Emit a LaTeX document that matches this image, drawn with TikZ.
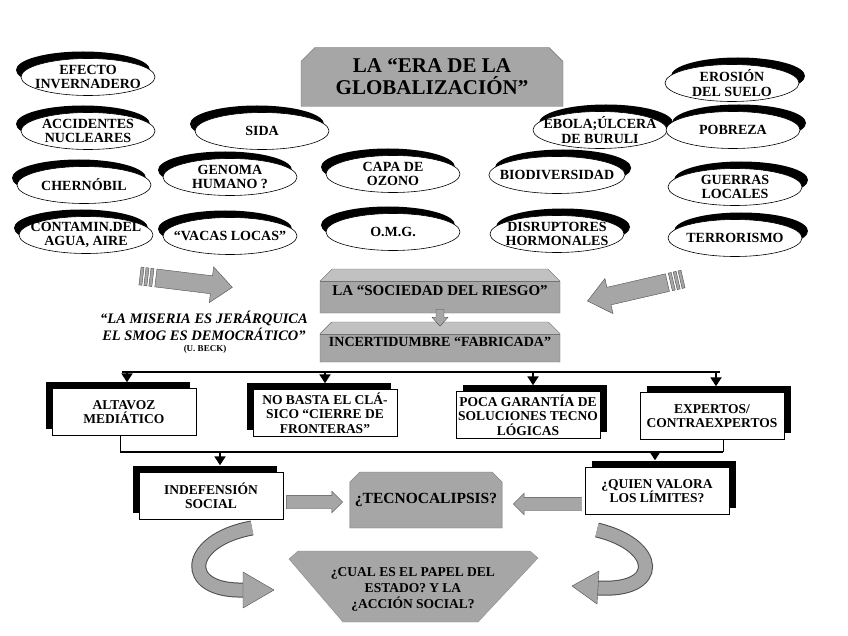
\documentclass[tikz,border=0pt]{standalone}
\usepackage{fontspec}
\setmainfont{Liberation Serif}
\usetikzlibrary{positioning,calc,shadows,shapes.geometric,shapes.misc,shapes.arrows,arrows.meta}
\definecolor{halftone}{gray}{0.65}

\begin{document}
\begin{tikzpicture}[x=1pt,y=-1pt]
	\tikzstyle{every node}=[font=\bfseries, align=center]
	\tikzstyle{bub}=[ellipse, draw, semithick, fill=white, minimum width=134pt, minimum height=37pt, inner xsep=-9pt, inner ysep=-3pt, font=\bfseries\fontsize{14}{14.5}\selectfont]
	\tikzstyle{bubL}=[bub, drop shadow={shadow xshift=-5pt, shadow yshift=7pt, fill=black, opacity=1}]
	\tikzstyle{bubR}=[bub, drop shadow={shadow xshift=6pt, shadow yshift=7pt, fill=black, opacity=1}]
	\tikzstyle{card}=[rectangle, draw, fill=white, minimum width=144pt, minimum height=47pt, inner sep=1pt, font=\bfseries\fontsize{13.5}{14.5}\selectfont]
	\tikzstyle{cardL}=[card, drop shadow={shadow xshift=-6pt, shadow yshift=7pt, fill=black, opacity=1}]
	\tikzstyle{cardR}=[card, drop shadow={shadow xshift=7pt, shadow yshift=7pt, fill=black, opacity=1}]
	\tikzstyle{plate}=[chamfered rectangle, chamfered rectangle corners={north west,north east}, chamfered rectangle xsep=7pt, chamfered rectangle ysep=7pt, draw=black!55, fill=halftone, inner sep=0pt]
	\tikzstyle{bevel}=[path picture={\fill[halftone!70!white] (path picture bounding box.north west) rectangle ([yshift=-12pt]path picture bounding box.north east); \draw[black!55] ([yshift=-12pt]path picture bounding box.north west) -- ([yshift=-12pt]path picture bounding box.north east);}]
	\tikzstyle{blockarr}=[single arrow, draw=black!70, fill=halftone, inner xsep=0pt, inner ysep=6.5pt, single arrow head extend=4pt]
	\tikzstyle{bus}=[line width=2.6pt]
	\tikzstyle{drop}=[line width=2pt, -{Triangle[width=11pt,length=9pt]}]
	\tikzstyle{ribbon}=[line width=15pt, black!70]
	\tikzstyle{ribbonin}=[line width=13pt, halftone]

	\useasboundingbox (0,0) rectangle (848,636);

	% title
	\node[plate, minimum width=262pt, minimum height=59pt, font=\bfseries\fontsize{21}{22}\selectfont] (era) at (432,77) {LA “ERA DE LA\\GLOBALIZACIÓN”};

	% risks, left side
	\node[bubL] (efecto) at (88,77) {EFECTO\\INVERNADERO};
	\node[bubL] (accid) at (88,131) {ACCIDENTES\\NUCLEARES};
	\node[bubL] (chern) at (84,185) {CHERNÓBIL};
	\node[bubL] (contam) at (86,235) {CONTAMIN.DEL\\AGUA, AIRE};
	\node[bubL] (sida) at (262,131) {SIDA};
	\node[bubL] (genoma) at (230,177) {GENOMA\\HUMANO ?};
	\node[bubL] (vacas) at (230,236) {“VACAS LOCAS”};
	\node[bubL] (capa) at (393,174) {CAPA DE\\OZONO};
	\node[bubL] (omg) at (393,232) {O.M.G.};

	% risks, right side
	\node[bubR] (erosion) at (732,83) {EROSIÓN\\DEL SUELO};
	\node[bubR] (ebola) at (600,130) {EBOLA;ÚLCERA\\DE BURULI};
	\node[bubR] (pobreza) at (733,130) {POBREZA};
	\node[bubR] (biodiv) at (557,175) {BIODIVERSIDAD};
	\node[bubR] (guerras) at (735,187) {GUERRAS\\LOCALES};
	\node[bubR] (disrupt) at (557,234) {DISRUPTORES\\HORMONALES};
	\node[bubR] (terror) at (735,238) {TERRORISMO};

	% big striped arrows
	\begin{scope}[shift={(140,276)}, rotate=-7]
		\filldraw[fill=halftone, draw=black!70] (0,-9) rectangle (3,9) (5,-9) rectangle (8,9) (10,-9) rectangle (13,9);
		\filldraw[fill=halftone, draw=black!70] (16,-9) -- (72,-9) -- (72,-18) -- (93,0) -- (72,18) -- (72,9) -- (16,9) -- cycle;
	\end{scope}
	\begin{scope}[shift={(683,279)}, rotate=193]
		\filldraw[fill=halftone, draw=black!70] (0,-9) rectangle (3,9) (5,-9) rectangle (8,9) (10,-9) rectangle (13,9);
		\filldraw[fill=halftone, draw=black!70] (16,-9) -- (76,-9) -- (76,-18) -- (98,0) -- (76,18) -- (76,9) -- (16,9) -- cycle;
	\end{scope}

	% risk society
	\node[plate, bevel, minimum width=240pt, minimum height=44pt, font=\bfseries\fontsize{15}{16}\selectfont] (soc) at (440,291) {\raisebox{-5pt}{LA “SOCIEDAD DEL RIESGO”}};
	\node[plate, bevel, minimum width=240pt, minimum height=40pt, font=\bfseries\fontsize{14}{15}\selectfont] (incert) at (440,342) {\raisebox{-5pt}{INCERTIDUMBRE “FABRICADA”}};
	\filldraw[fill=halftone, draw=black!70] ($(soc.south)+(-4,-4)$) -- ++(8,0) -- ++(0,8) -- ++(4,0) -- ++(-8,9) -- ++(-8,-9) -- ++(4,0) -- cycle;

	\node[font=\bfseries\itshape\fontsize{14.5}{17}\selectfont] (quote) at (204,326) {“LA MISERIA ES JERÁRQUICA\\EL SMOG ES DEMOCRÁTICO”};
	\node[font=\bfseries\fontsize{9}{10}\selectfont] (beck) at (205,349) {(U. BECK)};

	% consequences
	\node[cardL] (altavoz) at (124,412) {ALTAVOZ\\MEDIÁTICO};
	\node[cardL] (nobasta) at (325,413) {NO BASTA EL CLÁ-\\SICO “CIERRE DE\\FRONTERAS”};
	\node[cardR] (poca) at (528,415) {POCA GARANTÍA DE\\SOLUCIONES TECNO\\LÓGICAS};
	\node[cardR] (expertos) at (712,416) {EXPERTOS/\\CONTRAEXPERTOS};

	\coordinate (busL) at (122,372);
	\coordinate (busR) at (720,372);
	\draw[bus] (busL) -- (busR);
	\foreach \n/\dx in {altavoz/3, nobasta/0, poca/5, expertos/4}
		\draw[drop] ([xshift=\dx pt]busL -| \n.north) -- ([xshift=\dx pt, yshift=6pt]\n.north);

	\coordinate (lowL) at (120,452);
	\coordinate (lowR) at (723,452);
	\draw[semithick] (altavoz.south -| lowL) -- (lowL);
	\draw[semithick] (expertos.south -| lowR) -- (lowR);
	\draw[bus] (lowL) -- (lowR);

	\node[cardL] (indef) at (211,496) {INDEFENSIÓN\\SOCIAL};
	\node[cardR] (quien) at (657,491) {¿QUIEN VALORA\\LOS LÍMITES?};
	\draw[drop] ([xshift=9pt]lowL -| indef.north) -- ([xshift=9pt, yshift=7pt]indef.north);
	\draw[drop] ([xshift=-2pt]lowL -| quien.north) -- ([xshift=-2pt, yshift=7pt]quien.north);

	\node[plate, chamfered rectangle xsep=5pt, chamfered rectangle ysep=5pt, minimum width=148pt, minimum height=56pt, font=\bfseries\fontsize{15.5}{17}\selectfont] (tecno) at (426,500) {¿TECNOCALIPSIS?};

	\node[blockarr, minimum height=56pt] (a1) at ($(indef.east)+(28,6)$) {};
	\node[blockarr, shape border rotate=180, minimum height=68pt] (a2) at ($(quien.west)+(-34,13)$) {};

	% state / social action
	\filldraw[fill=halftone, draw=black!45] (298,551) -- (530,551) -- (538,558) -- (478,622) -- (343,622) -- (289,559) -- cycle;
	\node[font=\bfseries\fontsize{13.5}{16}\selectfont] (estado) at (413,589) {¿CUAL ES EL PAPEL DEL\\ESTADO? Y LA\\¿ACCIÓN SOCIAL?};

	% curved arrows
	\coordinate (lsrc) at (252,528);
	\coordinate (ltip) at (244,590);
	\draw[ribbon] (lsrc) .. controls (185,540) and (180,592) .. (ltip);
	\draw[ribbonin] (lsrc) .. controls (185,540) and (180,592) .. (ltip);
	\filldraw[fill=halftone, draw=black!70] (243,572) -- (274,590) -- (243,608) -- cycle;
	\coordinate (rsrc) at (597,530);
	\coordinate (rtip) at (598,588);
	\draw[ribbon] (rsrc) .. controls (660,545) and (663,592) .. (rtip);
	\draw[ribbonin] (rsrc) .. controls (660,545) and (663,592) .. (rtip);
	\filldraw[fill=halftone, draw=black!70] (599,571) -- (572,586) -- (597,604) -- cycle;
\end{tikzpicture}
\end{document}
